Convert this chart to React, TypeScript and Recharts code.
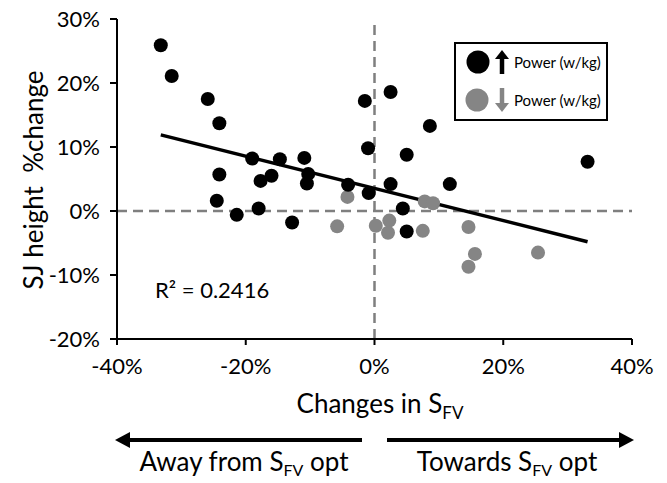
import { ScatterChart, Scatter, XAxis, YAxis, ReferenceLine } from "recharts";

const xTicks = [-40, -20, 0, 20, 40];
const yTicks = [-20, -10, 0, 10, 20, 30];

// [change in SFV %, SJ height % change]
const powerUp: [number, number][] = [
  [-33.2, 25.9], [-31.5, 21.1], [-25.9, 17.5], [-24.1, 13.7], [-24.1, 5.7],
  [-24.5, 1.6], [-21.4, -0.6], [-19.0, 8.2], [-17.7, 4.7], [-16.0, 5.5],
  [-14.7, 8.1], [-18.0, 0.4], [-10.9, 8.3], [-10.3, 5.8], [-10.5, 4.3],
  [-12.8, -1.8], [-4.1, 4.1], [-0.9, 2.8], [-1.0, 9.8], [-1.5, 17.2],
  [2.5, 18.6], [8.6, 13.3], [5.0, 8.8], [33.1, 7.7], [2.5, 4.2],
  [11.7, 4.2], [4.4, 0.4], [5.0, -3.2],
];

const powerDown: [number, number][] = [
  [-4.2, 2.2], [-5.8, -2.4], [0.2, -2.3], [7.8, 1.5], [9.1, 1.2],
  [2.3, -1.5], [2.1, -3.4], [7.5, -3.1], [14.6, -2.5], [15.6, -6.7],
  [14.6, -8.7], [25.4, -6.5],
];

const trendStart = { x: -33.2, y: 11.9 };
const trendEnd = { x: 33.1, y: -4.8 };
const rSquared = "0.2416";

const BLACK = "#000000";
const GREY = "#858585";

const toPoints = (rows: [number, number][]) => rows.map(([x, y]) => ({ x, y }));

function Dot(props: any) {
  const { cx, cy, fill } = props;
  return <circle cx={cx} cy={cy} r={7} fill={fill} />;
}

export default function App() {
  return (
    <div style={{ position: "absolute", left: 0, top: 0, width: 667, height: 483, background: "#fff", fontFamily: "Lato, sans-serif" }}>
      <ScatterChart width={667} height={483} margin={{ top: 19, right: 35, bottom: 0, left: 0 }}>
        <XAxis
          type="number"
          dataKey="x"
          domain={[-40, 40]}
          ticks={xTicks}
          height={144}
          tickFormatter={(v: number) => `${v}%`}
          axisLine={{ stroke: BLACK, strokeWidth: 2 }}
          tickLine={{ stroke: BLACK, strokeWidth: 2 }}
          tickSize={6}
          tickMargin={13}
          tick={{ fill: BLACK, fontSize: 22 }}
        />
        <YAxis
          type="number"
          dataKey="y"
          domain={[-20, 30]}
          ticks={yTicks}
          width={117}
          tickFormatter={(v: number) => `${v}%`}
          axisLine={{ stroke: BLACK, strokeWidth: 2 }}
          tickLine={{ stroke: BLACK, strokeWidth: 2 }}
          tickSize={7}
          tickMargin={10}
          tick={{ fill: BLACK, fontSize: 22 }}
        />
        <ReferenceLine x={0} stroke="#7f7f7f" strokeWidth={2.5} strokeDasharray="10 6" />
        <ReferenceLine y={0} stroke="#7f7f7f" strokeWidth={2.5} strokeDasharray="10 6" />
        <Scatter data={toPoints(powerDown)} fill={GREY} shape={<Dot />} isAnimationActive={false} />
        <Scatter data={toPoints(powerUp)} fill={BLACK} shape={<Dot />} isAnimationActive={false} />
        <ReferenceLine segment={[trendStart, trendEnd]} stroke={BLACK} strokeWidth={3.5} />
      </ScatterChart>

      <svg width={667} height={483} style={{ position: "absolute", left: 0, top: 0, pointerEvents: "none" }}>
        <text transform="translate(43,180) rotate(-90)" textAnchor="middle" fontSize={26} fill={BLACK} style={{ whiteSpace: "pre" }}>
          SJ height  %change
        </text>
        <text x={155} y={298} fontSize={22} fill={BLACK}>R² = {rSquared}</text>

        {/* legend */}
        <rect x={455} y={43} width={152} height={77} fill="#fff" stroke={BLACK} strokeWidth={2} />
        <circle cx={478} cy={62} r={11.5} fill={BLACK} />
        <line x1={502} y1={74} x2={502} y2={58} stroke={BLACK} strokeWidth={4.5} />
        <polygon points="495,59 509,59 502,50" fill={BLACK} />
        <text x={514} y={68} fontSize={15} fill={BLACK}>Power (w/kg)</text>
        <circle cx={477} cy={100} r={11.5} fill={GREY} />
        <line x1={502} y1={88} x2={502} y2={104} stroke={GREY} strokeWidth={4.5} />
        <polygon points="495,103 509,103 502,112" fill={GREY} />
        <text x={514} y={106} fontSize={15} fill={BLACK}>Power (w/kg)</text>

        {/* x title and direction arrows */}
        <text x={380} y={413} textAnchor="middle" fontSize={26} fill={BLACK}>
          Changes in S<tspan fontSize={17} dy={6}>FV</tspan>
        </text>
        <line x1={128} y1={440} x2={362} y2={440} stroke={BLACK} strokeWidth={4} />
        <polygon points="115,440 130,432 130,448" fill={BLACK} />
        <line x1={387} y1={440} x2={620} y2={440} stroke={BLACK} strokeWidth={4} />
        <polygon points="634,440 619,432 619,448" fill={BLACK} />
        <text x={244} y={471} textAnchor="middle" fontSize={26} fill={BLACK}>
          Away from S<tspan fontSize={16} dy={5}>FV</tspan><tspan dy={-5}> opt</tspan>
        </text>
        <text x={507} y={471} textAnchor="middle" fontSize={26} fill={BLACK}>
          Towards S<tspan fontSize={16} dy={5}>FV</tspan><tspan dy={-5}> opt</tspan>
        </text>
      </svg>
    </div>
  );
}
